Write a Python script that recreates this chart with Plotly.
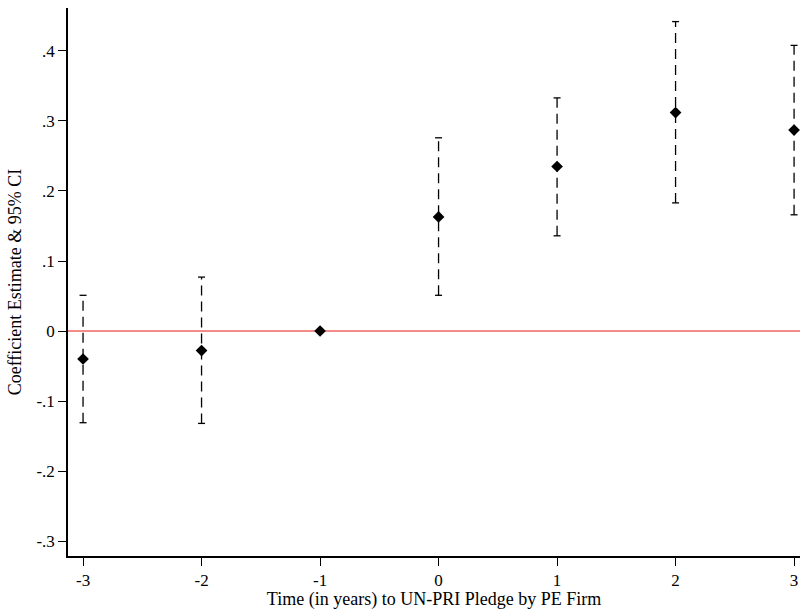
import plotly.graph_objects as go

years = [-3, -2, -1, 0, 1, 2, 3]
coef = [-0.040, -0.028, 0.0, 0.163, 0.235, 0.312, 0.287]
ci_low = [-0.131, -0.132, 0.0, 0.051, 0.136, 0.183, 0.166]
ci_high = [0.051, 0.077, 0.0, 0.276, 0.333, 0.442, 0.408]
ytick_vals = [-0.3, -0.2, -0.1, 0, 0.1, 0.2, 0.3, 0.4]
ytick_text = ["-.3", "-.2", "-.1", "0", ".1", ".2", ".3", ".4"]
xtick_vals = [-3, -2, -1, 0, 1, 2, 3]
xtick_text = ["-3", "-2", "-1", "0", "1", "2", "3"]

fig = go.Figure()

# zero reference line
fig.add_trace(go.Scatter(x=[-3.2, 3.2], y=[0, 0], mode="lines",
                         line=dict(color="rgb(240,100,100)", width=1.5),
                         hoverinfo="skip", showlegend=False))

# dashed CI segments
for xv, lo, hi in zip(years, ci_low, ci_high):
    if hi == lo:
        continue
    fig.add_trace(go.Scatter(x=[xv, xv], y=[lo, hi], mode="lines",
                             line=dict(color="black", width=1.3, dash="10px,6px"),
                             showlegend=False, hoverinfo="skip"))
    fig.add_trace(go.Scatter(x=[xv, xv], y=[lo, hi], mode="markers",
                             marker=dict(symbol="line-ew", size=5,
                                         line=dict(color="black", width=1.3)),
                             showlegend=False, hoverinfo="skip"))

# point estimates
fig.add_trace(go.Scatter(x=years, y=coef, mode="markers",
                         marker=dict(symbol="diamond", size=9, color="black"),
                         showlegend=False))

font_family = "Liberation Serif, Times New Roman, serif"
fig.update_layout(
    width=800, height=610,
    margin=dict(l=68, r=0, t=8, b=54),
    paper_bgcolor="white", plot_bgcolor="white",
    font=dict(family=font_family, size=17, color="black"),
    showlegend=False,
)
fig.update_xaxes(
    range=[-3.127, 3.05], tickvals=xtick_vals, ticktext=xtick_text,
    showline=True, linecolor="black", linewidth=1.5,
    ticks="outside", ticklen=8, tickcolor="black", tickwidth=1.2,
    showgrid=False, zeroline=False,
    title=dict(text="Time (in years) to UN-PRI Pledge by PE Firm",
               font=dict(size=18), standoff=5),
    tickfont=dict(size=17),
)
fig.update_yaxes(
    range=[-0.3214, 0.4614], tickvals=ytick_vals, ticktext=ytick_text,
    showline=True, linecolor="black", linewidth=1.5,
    ticks="outside", ticklen=8, tickcolor="black", tickwidth=1.2,
    showgrid=False, zeroline=False,
    title=dict(text="Coefficient Estimate &amp; 95% CI", font=dict(size=18), standoff=10),
    tickfont=dict(size=17),
)

fig.write_html("out.html")
